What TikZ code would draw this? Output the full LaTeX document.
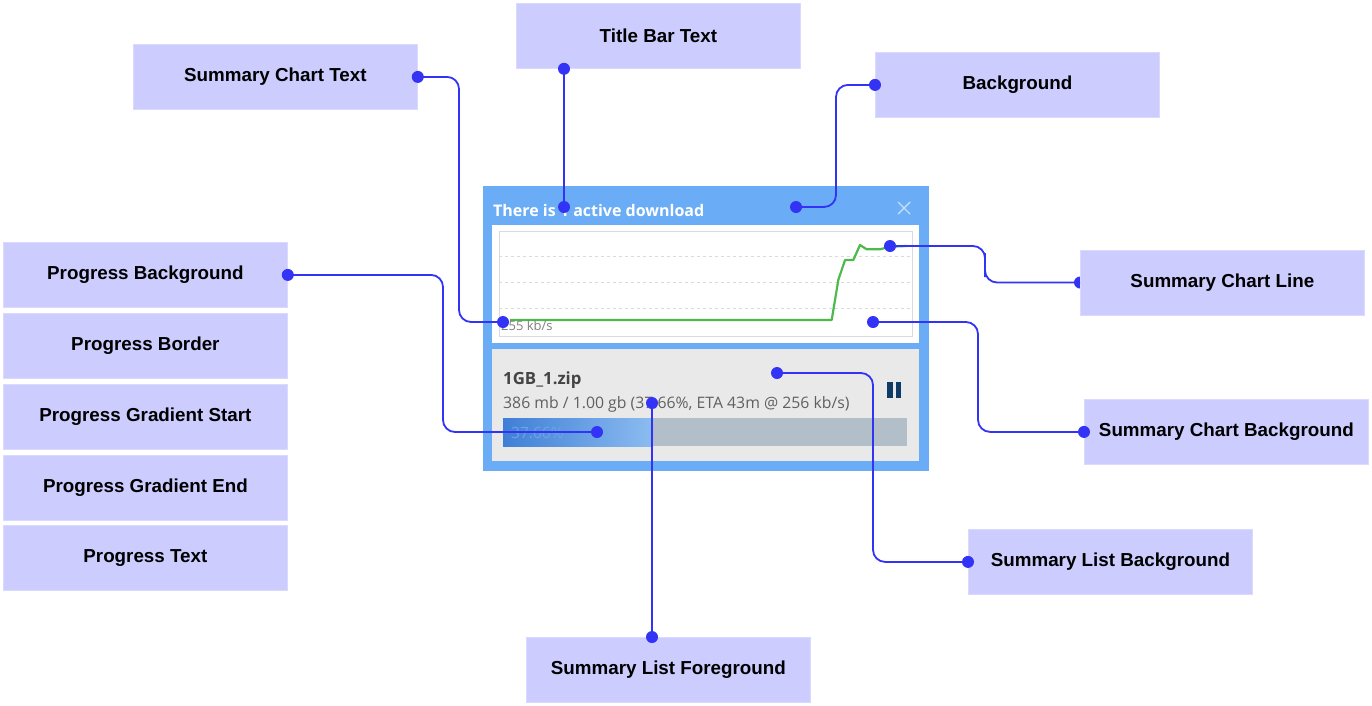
\documentclass[tikz,border=0pt]{standalone}
\usepackage{fontspec}
\setmainfont{Liberation Sans}
\newfontfamily\winfont{Open Sans}
\definecolor{lblfill}{HTML}{CCCCFF}
\definecolor{lblborder}{HTML}{DADAFF}
\definecolor{conncol}{HTML}{3333F5}
\definecolor{winblue}{HTML}{6AADF6}
\definecolor{listgray}{HTML}{E9E9E9}
\definecolor{barback}{HTML}{B2BEC8}
\definecolor{bardark}{HTML}{3F7FD6}
\definecolor{barlight}{HTML}{8CBCF0}
\definecolor{chartgreen}{HTML}{4CBB4C}
\definecolor{gridgray}{HTML}{DADADA}
\definecolor{navy}{HTML}{0D3A66}
\definecolor{wintext}{HTML}{444444}
\begin{document}
\begin{tikzpicture}[x=1pt,y=-1pt,
  lbl/.style={draw=lblborder, line width=0.8pt, fill=lblfill, minimum width=284pt, minimum height=65pt, inner sep=0pt, anchor=north west, font=\bfseries\fontsize{18.8}{22}\selectfont},
  conn/.style={draw=conncol, line width=1.8pt, rounded corners=12pt},
  dot/.style={circle, fill=conncol, inner sep=0pt, minimum size=12pt},
  wtext/.style={anchor=base west, inner sep=0pt}
]
\useasboundingbox (0,0) rectangle (1372,705);

% ---------- window ----------
\fill[winblue] (483,186) rectangle (929,471);
\fill[white] (492,225) rectangle (919,343);
\draw[gridgray, line width=0.8pt] (499,231) rectangle (912,336);
\foreach \yy in {256.5,282,308}
  \draw[gridgray, dashed, line width=0.8pt] (499,\yy) -- (912,\yy);
\draw[chartgreen, line width=2.2pt, line join=round]
  (510,320) -- (831.7,320) -- (838.3,280) -- (845,260) -- (853.3,260) -- (860,245) -- (866.7,249.3) -- (880,249.3) -- (890,246.7) -- (906.7,246);
\node[wtext, text=gray, font=\winfont\fontsize{13}{15}\selectfont] (kbs) at (501,330) {255 kb/s};

\node[wtext, text=white, font=\winfont\bfseries\fontsize{16}{18}\selectfont] (title) at (493,216) {There is 1 active download};
\draw[white!60!winblue, line width=1.4pt] (898,202) -- (910,214) (898,214) -- (910,202);

\fill[listgray] (492,349) rectangle (919,461);
\node[wtext, text=wintext, font=\winfont\bfseries\fontsize{16.8}{19}\selectfont] (fname) at (503,384) {1GB\_1.zip};
\node[wtext, text=wintext!85!white, font=\winfont\fontsize{15.8}{18}\selectfont] (finfo) at (503,408) {386 mb / 1.00 gb (37.66\%, ETA 43m @ 256 kb/s)};
\fill[barback] (503,418) rectangle (907,446);
\shade[left color=bardark, right color=barlight] (503,418) rectangle (653,446);
\node[wtext, text=bardark!40!barlight, font=\winfont\fontsize{15.5}{17}\selectfont] (pct) at (511,438) {37.66\%};
\fill[navy] (887,382) rectangle (892.5,398);
\fill[navy] (895.5,382) rectangle (901,398);

% ---------- half-hidden end dot (under its label) ----------
\coordinate (c5) at (1080,282.5);
\node[dot] (d5b) at (c5) {};

% ---------- labels ----------
\node[lbl] (tbt) at (516,3) {Title Bar Text};
\node[lbl] (sct) at (133,44) {Summary Chart Text};
\node[lbl] (bg)  at (875,52) {Background};
\node[lbl] (pbg) at (3,242) {Progress Background};
\node[lbl] (pbd) at (3,313) {Progress Border};
\node[lbl] (pgs) at (3,384) {Progress Gradient Start};
\node[lbl] (pge) at (3,455) {Progress Gradient End};
\node[lbl] (ptx) at (3,525) {Progress Text};
\node[lbl, anchor=west] (scl) at (c5) {Summary Chart Line};
\node[lbl] (scb) at (1084,399) {Summary Chart Background};
\node[lbl] (slb) at (968,529) {Summary List Background};
\node[lbl] (slf) at (526,637) {Summary List Foreground};

% ---------- target points ----------
\coordinate (t1) at (503,322);
\coordinate (t2) at (564,207);
\coordinate (t3) at (796,207);
\coordinate (t4) at (597,432);
\coordinate (t5) at (890,246);
\coordinate (t6) at (873,322);
\coordinate (t7) at (777,373);
\coordinate (t8) at (652,403);

% ---------- connectors ----------
\draw[conn] (sct.east) -| (459,200) |- (t1);
\draw[conn] (t2 |- tbt.south) -- (t2);
\draw[conn] (bg.west) -| (836,150) |- (t3);
\draw[conn] (pbg.east) -| (443,350) |- (t4);
\draw[conn] (t5) -| (985,265) |- (scl.west);
\draw[conn] (t6) -| (978,380) |- (scb.west);
\draw[conn] (t7) -| (873,470) |- (slb.west);
\draw[conn] (t8) -- (t8 |- slf.north);

% ---------- dots ----------
\node[dot] (d1a) at (sct.east) {};
\node[dot] (d1b) at (t1) {};
\node[dot] (d2a) at (t2 |- tbt.south) {};
\node[dot] (d2b) at (t2) {};
\node[dot] (d3a) at (bg.west) {};
\node[dot] (d3b) at (t3) {};
\node[dot] (d4a) at (pbg.east) {};
\node[dot] (d4b) at (t4) {};
\node[dot] (d5a) at (t5) {};
\node[dot] (d6a) at (t6) {};
\node[dot] (d6b) at (scb.west) {};
\node[dot] (d7a) at (t7) {};
\node[dot] (d7b) at (slb.west) {};
\node[dot] (d8a) at (t8) {};
\node[dot] (d8b) at (t8 |- slf.north) {};
\end{tikzpicture}
\end{document}
